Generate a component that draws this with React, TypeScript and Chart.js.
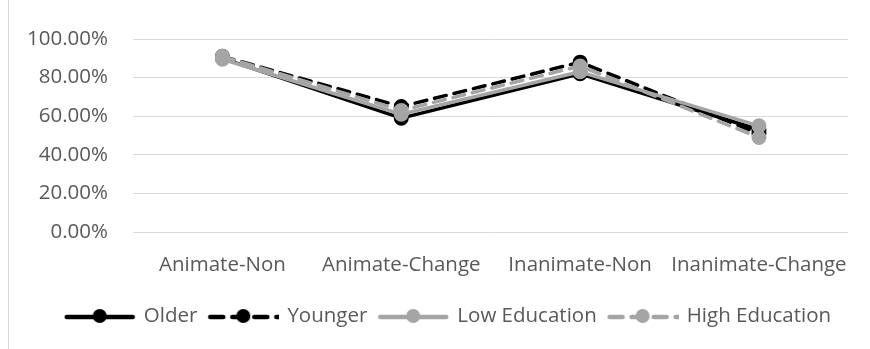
import React, { useEffect, useRef } from "react";
import { Chart, registerables } from "chart.js";

Chart.register(...registerables);

const categories = ["Animate-Non", "Animate-Change", "Inanimate-Non", "Inanimate-Change"];
const seriesNames = ["Older", "Younger", "Low Education", "High Education"];
const olderValues = [90, 59, 82, 53];
const youngerValues = [91, 65, 88, 51];
const lowEducationValues = [89.5, 61, 83, 55];
const highEducationValues = [91, 63, 86, 49];
const yTicks = [0, 20, 40, 60, 80, 100];

const BLACK = "#000000";
const GRAY = "#a5a5a5";
const TEXT = "#595959";
const GRID = "#d9d9d9";
const FONT = "'Open Sans'";
const FS = 20.5;

function legendImage(color: string, dashed: boolean): HTMLCanvasElement {
  const c = document.createElement("canvas");
  c.width = 72;
  c.height = 18;
  const ctx = c.getContext("2d")!;
  ctx.strokeStyle = color;
  ctx.lineWidth = 4.5;
  ctx.lineCap = "round";
  if (dashed) ctx.setLineDash([13, 9]);
  ctx.beginPath();
  if (dashed) {
    ctx.moveTo(3, 10);
    ctx.lineTo(72, 10);
  } else {
    ctx.moveTo(3, 10);
    ctx.lineTo(69, 10);
  }
  ctx.stroke();
  ctx.setLineDash([]);
  ctx.fillStyle = color;
  ctx.beginPath();
  ctx.arc(36, 9, 7, 0, Math.PI * 2);
  ctx.fill();
  return c;
}

export default function App() {
  const ref = useRef<HTMLCanvasElement | null>(null);

  useEffect(() => {
    if (!ref.current) return;
    const styles = [
      { color: BLACK, dashed: false, data: olderValues, order: 4 },
      { color: BLACK, dashed: true, data: youngerValues, order: 3 },
      { color: GRAY, dashed: false, data: lowEducationValues, order: 2 },
      { color: GRAY, dashed: true, data: highEducationValues, order: 1 },
    ];
    const images = styles.map((s) => legendImage(s.color, s.dashed));
    const chart = new Chart(ref.current, {
      type: "line",
      data: {
        labels: categories,
        datasets: styles.map((s, i) => ({
          label: seriesNames[i],
          data: s.data,
          order: s.order,
          yAxisID: "y",
          borderColor: s.color,
          backgroundColor: s.color,
          borderWidth: 3.5,
          borderDash: s.dashed ? [12, 8] : [],
          borderCapStyle: "round" as const,
          borderJoinStyle: "round" as const,
          pointRadius: 6,
          pointBorderWidth: 3,
          pointBackgroundColor: s.color,
          pointBorderColor: s.color,
          pointStyle: "circle",
          tension: 0,
          fill: false,
        })),
      },
      options: {
        responsive: false,
        animation: false,
        devicePixelRatio: 1,
        layout: { padding: { left: 27, right: 0, top: 39, bottom: 12.75 } },
        plugins: {
          tooltip: { enabled: false },
          legend: {
            position: "bottom",
            labels: {
              usePointStyle: true,
              pointStyleWidth: 67.75,
              padding: 12,
              color: TEXT,
              font: { family: FONT, size: FS },
              sort: (a: any, b: any) => a.datasetIndex - b.datasetIndex,
              generateLabels: (ch: any) => {
                const items = Chart.defaults.plugins.legend.labels.generateLabels(ch);
                return items.map((it: any) => ({
                  ...it,
                  pointStyle: images[it.datasetIndex],
                  lineWidth: 0,
                }));
              },
            },
          },
        },
        scales: {
          x: {
            offset: true,
            grid: { display: false, drawTicks: false },
            border: { display: false },
            ticks: {
              color: TEXT,
              font: { family: FONT, size: FS },
              padding: 21,
              maxRotation: 0,
              autoSkip: false,
            },
            afterFit: (scale: any) => {
              scale.height = 61.75;
            },
          },
          y: {
            position: "left",
            min: 0,
            max: 100,
            grid: { color: GRID, lineWidth: 1, drawTicks: false },
            border: { display: false },
            afterBuildTicks: (scale: any) => {
              scale.ticks = yTicks.map((v) => ({ value: v }));
            },
            ticks: {
              color: TEXT,
              font: { family: FONT, size: FS },
              padding: 25,
              callback: (v: any) => Number(v).toFixed(2) + "%",
            },
            afterFit: (scale: any) => {
              scale.width = 106;
            },
          },
          yRight: {
            position: "right",
            min: 0,
            max: 100,
            grid: { display: false, drawTicks: false },
            border: { display: false },
            ticks: { display: false },
            afterFit: (scale: any) => {
              scale.width = 19;
            },
          },
        },
      },
    });
    return () => chart.destroy();
  }, []);

  return (
    <div style={{ position: "absolute", left: 0, top: 0, width: 870, height: 349, background: "#fff" }}>
      <div style={{ position: "absolute", left: 8, top: 0, width: 1, height: 349, background: GRID }} />
      <canvas ref={ref} width={870} height={349} style={{ position: "absolute", left: 0, top: 0, width: 870, height: 349 }} />
    </div>
  );
}
